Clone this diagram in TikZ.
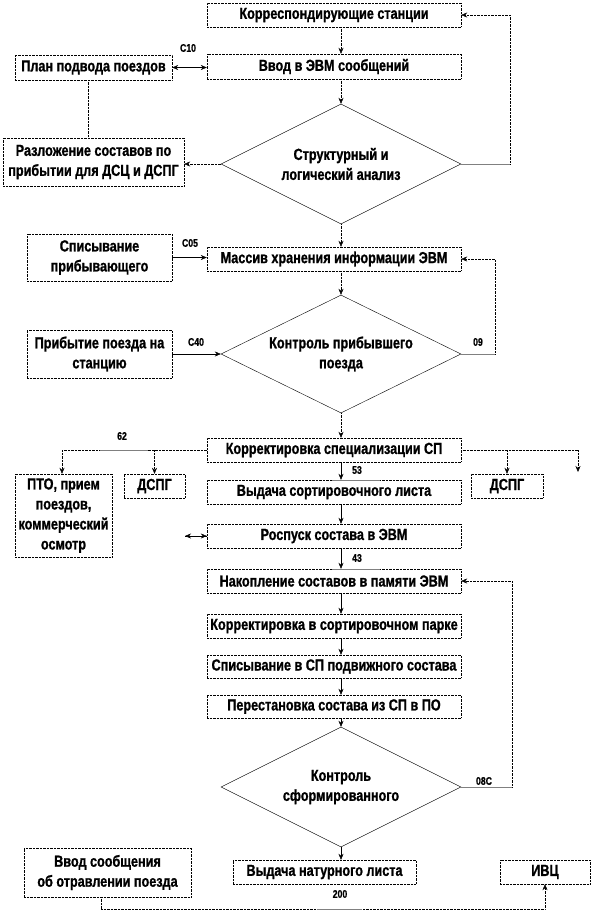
\documentclass[tikz,border=0pt]{standalone}
\usepackage{fontspec}
\setmainfont{Liberation Sans}[FakeStretch=0.79, BoldFeatures={FakeBold=1}]
\usetikzlibrary{arrows.meta, shapes.geometric, positioning}

\begin{document}
\begin{tikzpicture}[x=1pt, y=-1pt,
  blk/.style={draw, densely dotted, inner sep=0pt, align=center,
    minimum width=254pt, minimum height=24pt,
    font=\bfseries\fontsize{16}{20}\selectfont},
  dec/.style={draw, diamond, aspect=2, inner sep=0pt, align=center,
    minimum width=240pt, minimum height=120pt,
    font=\bfseries\fontsize{16}{20}\selectfont},
  lbl/.style={font=\bfseries\fontsize{11}{12}\selectfont},
  arr/.style={-{Stealth[length=6pt,width=5pt]}},
  dots/.style={densely dotted},
  tick/.style={gray, line width=1pt}]
  \useasboundingbox (0,0) rectangle (602,914);
  % main column
  \node[blk] (korr) at (334,15) {Корреспондирующие станции};
  \node[blk, minimum height=25pt] (vvod) at (334,66.5) {Ввод в ЭВМ сообщений};
  \node[dec] (dA) at (341,164) {Структурный и\\логический анализ};
  \node[blk] (massiv) at (334,259) {Массив хранения информации ЭВМ};
  \node[dec, minimum height=118pt] (dB) at (341,354) {Контроль прибывшего\\поезда};
  \node[blk] (korspec) at (334,450) {Корректировка специализации СП};
  \node[blk] (vyd) at (334,492) {Выдача сортировочного листа};
  \node[blk] (rosp) at (334,536) {Роспуск состава в ЭВМ};
  \node[blk] (nak) at (334,581) {Накопление составов в памяти ЭВМ};
  \node[blk] (korpark) at (334,626) {Корректировка в сортировочном парке};
  \node[blk, minimum height=23pt] (spissp) at (334,666.5) {Списывание в СП подвижного состава};
  \node[blk, minimum height=23pt] (perest) at (334,706.5) {Перестановка состава из СП в ПО};
  \node[dec] (dC) at (341,787) {Контроль\\сформированного};
  \node[blk, minimum width=183pt] (natur) at (324.5,872) {Выдача натурного листа};
  % side boxes
  \node[blk, minimum width=157pt, minimum height=25pt] (plan) at (93.5,67.5) {План подвода поездов};
  \node[blk, minimum width=181pt, minimum height=48pt] (razl) at (93.5,162) {Разложение составов по\\прибытии для ДСЦ и ДСПГ};
  \node[blk, minimum width=145pt, minimum height=47pt] (spis) at (99.5,257.5) {Списывание\\прибывающего};
  \node[blk, minimum width=145pt, minimum height=48pt] (prib) at (99.5,354) {Прибытие поезда на\\станцию};
  \node[blk, minimum width=97pt, minimum height=83pt] (pto) at (63.5,515.5) {ПТО, прием\\поездов,\\коммерческий\\осмотр};
  \node[blk, minimum width=61pt] (dspga) at (154.5,486) {ДСПГ};
  \node[blk, minimum width=72pt] (dspgb) at (507,486) {ДСПГ};
  \node[blk, minimum width=167pt, minimum height=49pt] (vvodsoob) at (107.5,872.5) {Ввод сообщения\\об отравлении поезда};
  \node[blk, minimum width=90pt] (ivc) at (545,872) {ИВЦ};
  % free ends
  \coordinate (loopa) at (510,164);
  \coordinate (loopb) at (495,354);
  \coordinate (loopc) at (512,787);
  \coordinate (brl) at (62,450);
  \coordinate (brr) at (578,450);
  \coordinate (freeend) at (578,472);
  \coordinate (rospl) at (185,536);
  \coordinate (botl) at (101,909);
  % labels
  \node[lbl] (c10) at (188,48) {С10};
  \node[lbl] (c05) at (190,243) {С05};
  \node[lbl] (c40) at (196,342) {С40};
  \node[lbl] (l09) at (478,342) {09};
  \node[lbl] (l62) at (122,436) {62};
  \node[lbl] (l53) at (357,470) {53};
  \node[lbl] (l43) at (357,558) {43};
  \node[lbl] (l08c) at (484,781) {08С};
  \node[lbl] (l200) at (340,894) {200};
  % main flow
  \draw[arr, dots] (korr.south -| dA.north) -- (vvod.north -| dA.north);
  \draw[arr, dots] (vvod.south -| dA.north) -- (dA.north);
  \draw[arr, dots] (dA.south) -- (massiv.north -| dA.south);
  \draw[arr, dots] (massiv.south -| dB.north) -- (dB.north);
  \draw[arr, dots] (dB.south) -- (korspec.north -| dB.south);
  \draw[arr] (korspec.south -| dB.south) -- (vyd.north -| dB.south);
  \draw[arr] (vyd.south -| dB.south) -- (rosp.north -| dB.south);
  \draw[arr] (rosp.south -| dB.south) -- (nak.north -| dB.south);
  \draw[arr] (nak.south -| dB.south) -- (korpark.north -| dB.south);
  \draw[arr] (korpark.south -| dB.south) -- (spissp.north -| dB.south);
  \draw[arr] (spissp.south -| dB.south) -- (perest.north -| dB.south);
  \draw[arr] (perest.south -| dC.north) -- (dC.north);
  \draw[arr] (dC.south) -- (natur.north -| dC.south);
  % side links
  \draw[{Stealth[length=6pt,width=5pt]}-{Stealth[length=6pt,width=5pt]}] (plan.east) -- (plan.east -| vvod.west);
  \draw[dots] ([xshift=-5pt]plan.south) -- ([xshift=-5pt]plan.south |- razl.north);
  \draw[arr, dots] (dA.west) -- (dA.west -| razl.east);
  \draw[arr] (spis.east) -- (spis.east -| massiv.west);
  \draw[arr] (prib.east) -- (dB.west);
  \draw[arr, dots] (rospl) -- (rosp.west);
  \draw[arr, dots] (rosp.west) -- (rospl);
  % loops back
  \draw[tick] (dA.east) -- (loopa);
  \draw[arr, dots] (loopa) |- (korr.east);
  \draw[tick] (dB.east) -- (loopb);
  \draw[arr, dots] (loopb) |- (massiv.east);
  \draw[tick] (dC.east) -- (loopc);
  \draw[arr, dots] (loopc) |- (nak.east);
  % branches
  \draw[dots] (korspec.west) -- (brl);
  \draw[arr, dots] (brl) -- (pto.north -| brl);
  \draw[arr, dots] (korspec.west -| dspga.north) -- (dspga.north);
  \draw[tick] (100,450) -- (148,450);
  \draw[dots] (korspec.east) -- (brr);
  \draw[arr, dots] (brr) -- (freeend);
  \draw[arr, dots] (korspec.east -| dspgb.north) -- (dspgb.north);
  \draw[tick] (332,480) -- (380,480);
  \draw[tick] (332,569) -- (380,569);
  % bottom
  \draw[dots] ([xshift=-6.5pt]vvodsoob.south) -- (botl);
  \draw[arr, dots] (botl) -| (ivc.south);
  \draw[tick] (317,909) -- (362,909);
\end{tikzpicture}
\end{document}
